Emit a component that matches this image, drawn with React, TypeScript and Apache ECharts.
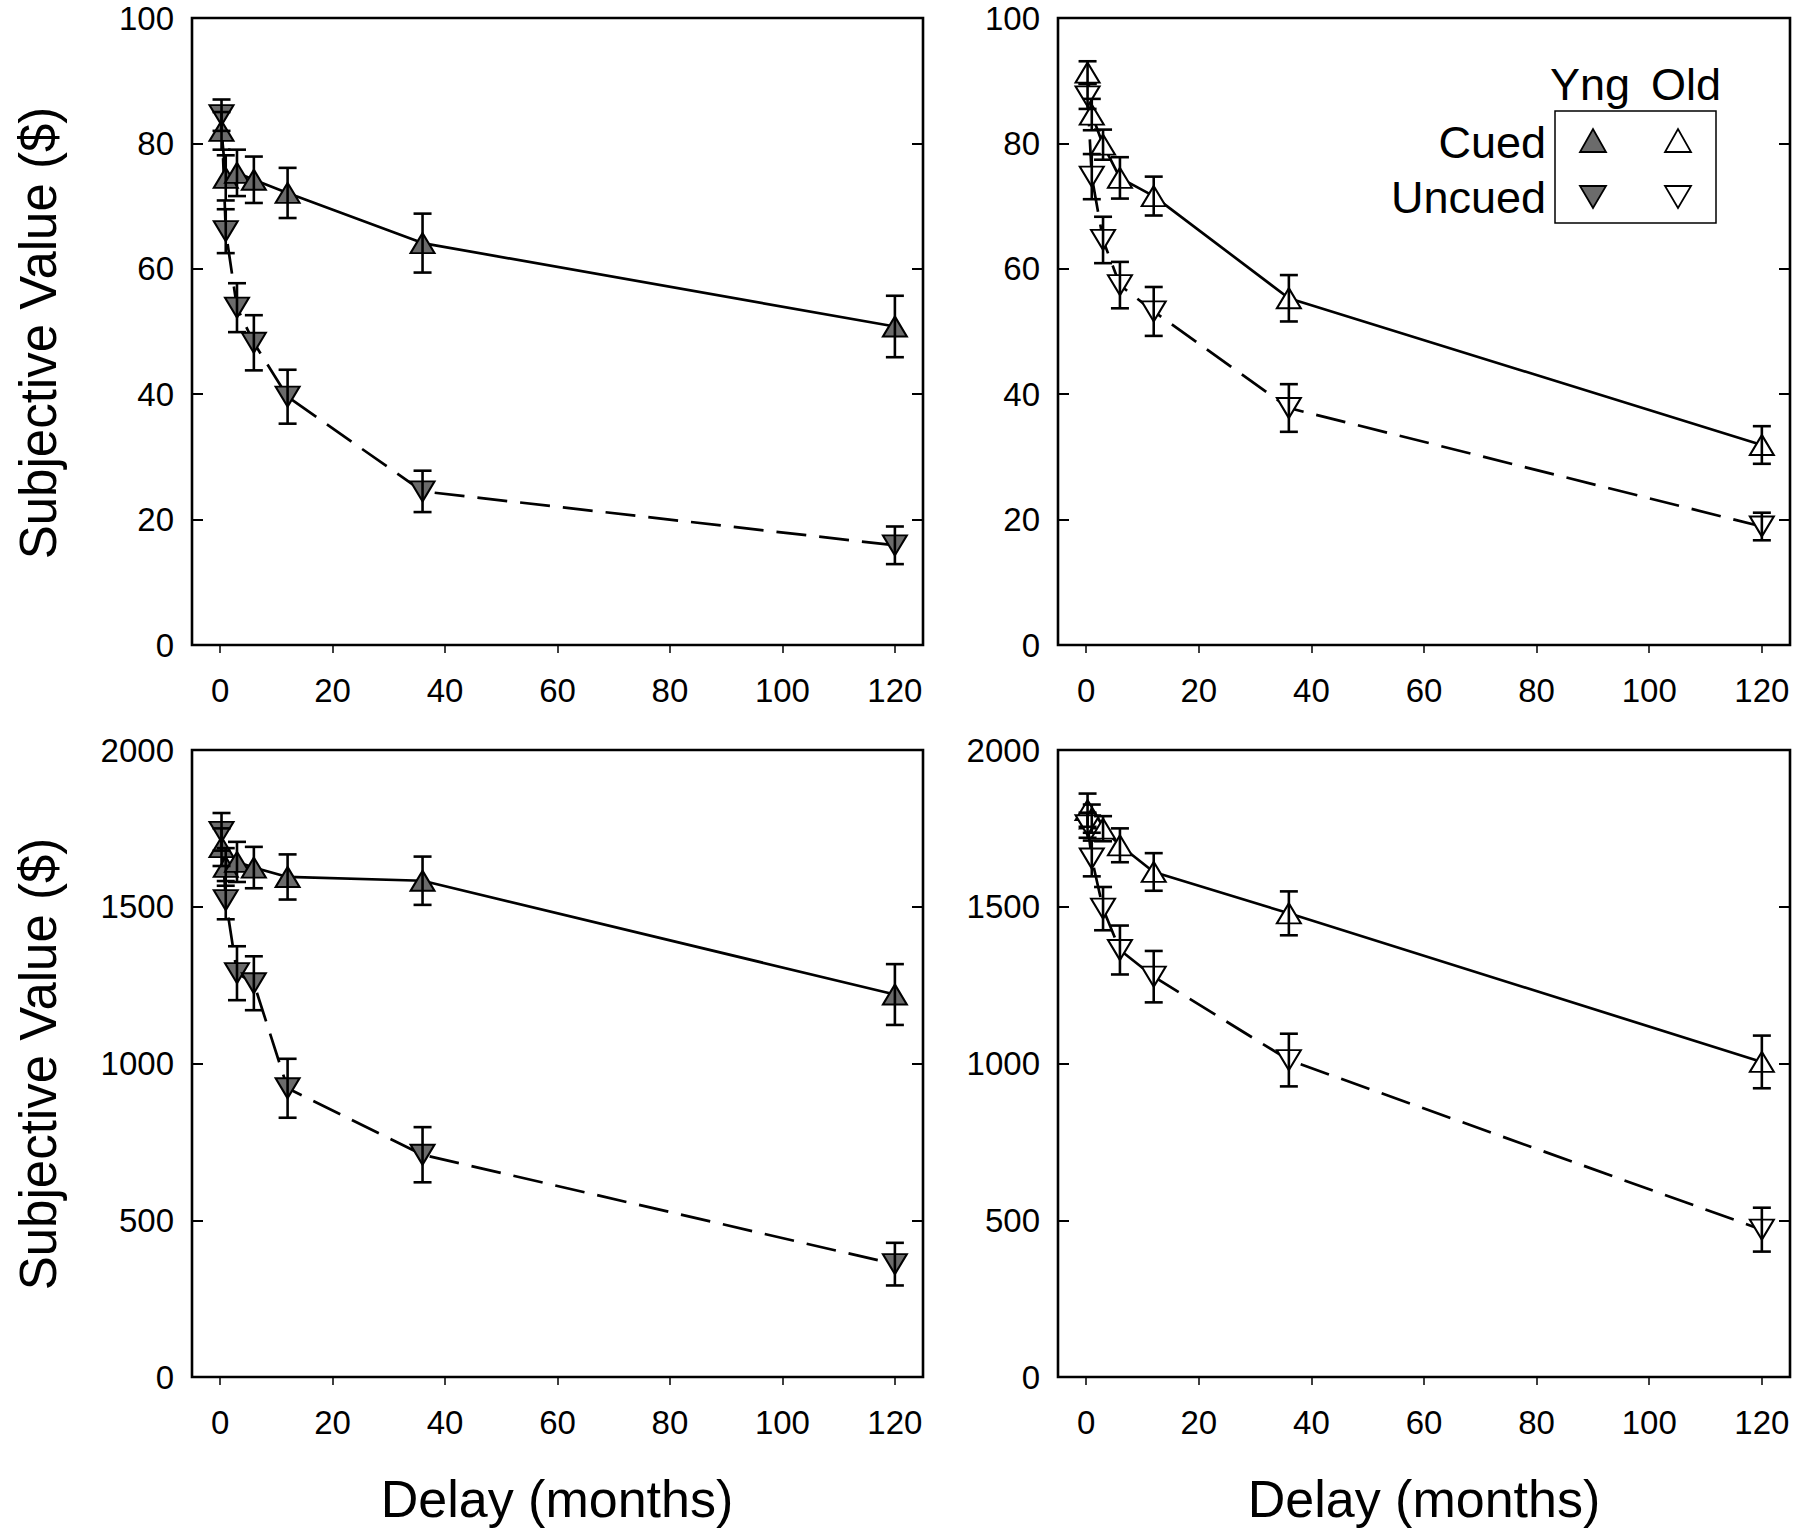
import React, { useEffect, useRef } from "react";
import * as echarts from "echarts";

// ---- data ----
const delays = [0.25, 1, 3, 6, 12, 36, 120];
const xTicks = [0, 20, 40, 60, 80, 100, 120];

// Young, $100
const yng100Cued = [82, 74.5, 75.3, 74.2, 72.1, 64.1, 50.8];
const yng100CuedErr = [3, 3.6, 3.7, 3.7, 4, 4.7, 4.9];
const yng100Uncued = [84.5, 66, 53.8, 48.2, 39.6, 24.5, 15.9];
const yng100UncuedErr = [2.5, 3.5, 3.9, 4.4, 4.3, 3.3, 3];

// Old, $100
const old100Cued = [91.3, 84.6, 79.8, 74.5, 71.6, 55.3, 31.9];
const old100CuedErr = [1.8, 2.5, 2.4, 3.3, 3.1, 3.7, 3];
const old100Uncued = [87.5, 74.7, 64.6, 57.4, 53.2, 37.8, 18.9];
const old100UncuedErr = [2, 3.6, 3.7, 3.7, 3.9, 3.8, 2.2];

// Young, $2000
const yng2000Cued = [1690, 1627, 1643, 1625, 1595, 1583, 1220];
const yng2000CuedErr = [60, 60, 64, 66, 72, 77, 97];
const yng2000Uncued = [1739, 1521, 1288, 1256, 921, 709, 360];
const yng2000UncuedErr = [60, 61, 86, 86, 94, 88, 68];

// Old, $2000
const old2000Cued = [1808, 1781, 1749, 1696, 1611, 1479, 1005];
const old2000CuedErr = [53, 45, 40, 54, 60, 70, 84];
const old2000Uncued = [1760, 1654, 1494, 1362, 1277, 1011, 470];
const old2000UncuedErr = [40, 57, 69, 78, 82, 84, 70];

const yMax = [100, 100, 2000, 2000];
const yInterval = [20, 20, 500, 500];

const FONT = "'Liberation Sans', Arial, Helvetica, sans-serif";
const YNG_FILL = "#6b6b6b";
const OLD_FILL = "#ffffff";

type Panel = {
  cued: number[];
  cuedErr: number[];
  uncued: number[];
  uncuedErr: number[];
  fill: string;
};

const panels: Panel[] = [
  { cued: yng100Cued, cuedErr: yng100CuedErr, uncued: yng100Uncued, uncuedErr: yng100UncuedErr, fill: YNG_FILL },
  { cued: old100Cued, cuedErr: old100CuedErr, uncued: old100Uncued, uncuedErr: old100UncuedErr, fill: OLD_FILL },
  { cued: yng2000Cued, cuedErr: yng2000CuedErr, uncued: yng2000Uncued, uncuedErr: yng2000UncuedErr, fill: YNG_FILL },
  { cued: old2000Cued, cuedErr: old2000CuedErr, uncued: old2000Uncued, uncuedErr: old2000UncuedErr, fill: OLD_FILL },
];

const gridBoxes = [
  { left: 192, top: 18, width: 731, height: 627 },
  { left: 1058, top: 18, width: 732, height: 627 },
  { left: 192, top: 750, width: 731, height: 627 },
  { left: 1058, top: 750, width: 732, height: 627 },
];

function errRender(params: any, api: any) {
  const x = api.value(0);
  const y = api.value(1);
  const e = api.value(2);
  const top = api.coord([x, y + e]);
  const bot = api.coord([x, y - e]);
  const hw = 9;
  const st = { stroke: "#000", lineWidth: 2.6 };
  return {
    type: "group",
    children: [
      { type: "line", shape: { x1: top[0], y1: top[1], x2: bot[0], y2: bot[1] }, style: st },
      { type: "line", shape: { x1: top[0] - hw, y1: top[1], x2: top[0] + hw, y2: top[1] }, style: st },
      { type: "line", shape: { x1: bot[0] - hw, y1: bot[1], x2: bot[0] + hw, y2: bot[1] }, style: st },
    ],
  };
}

function buildOption() {
  const grid = gridBoxes.map((g) => ({
    ...g,
    show: true,
    borderColor: "#000",
    borderWidth: 2.6,
    backgroundColor: "transparent",
    containLabel: false,
  }));

  const xAxis = gridBoxes.map((_, i) => ({
    type: "value",
    gridIndex: i,
    min: -5,
    max: 125,
    axisLine: { show: false, onZero: false },
    axisTick: {
      show: true,
      inside: false,
      length: 8,
      lineStyle: { color: "#000", width: 1.5 },
      customValues: xTicks,
    },
    axisLabel: {
      customValues: xTicks,
      fontSize: 33,
      color: "#000",
      margin: 29,
      fontFamily: FONT,
      formatter: (v: number) => String(v),
    },
    splitLine: { show: false },
  }));

  const yAxis: any[] = [];
  gridBoxes.forEach((_, i) => {
    const base = {
      type: "value",
      gridIndex: i,
      min: 0,
      max: yMax[i],
      interval: yInterval[i],
      axisLine: { show: false, onZero: false },
      axisTick: { show: true, inside: true, length: 11, lineStyle: { color: "#000", width: 2 } },
      splitLine: { show: false },
    };
    yAxis.push({
      ...base,
      position: "left",
      axisLabel: {
        fontSize: 33,
        color: "#000",
        margin: 18,
        fontFamily: FONT,
        formatter: (v: number) => String(v),
      },
    });
    yAxis.push({
      ...base,
      position: "right",
      axisLabel: { show: false },
    });
  });

  const series: any[] = [];
  panels.forEach((p, i) => {
    const groups = [
      { vals: p.cued, errs: p.cuedErr, dash: "solid" as any, rot: 0 },
      { vals: p.uncued, errs: p.uncuedErr, dash: [30, 13] as any, rot: 180 },
    ];
    groups.forEach((g) => {
      series.push({
        type: "line",
        xAxisIndex: i,
        yAxisIndex: 2 * i,
        data: delays.map((d, k) => [d, g.vals[k]]),
        showSymbol: false,
        symbol: "none",
        lineStyle: { color: "#000", width: 2.7, type: g.dash },
        z: 2,
        silent: true,
      });
      series.push({
        type: "scatter",
        xAxisIndex: i,
        yAxisIndex: 2 * i,
        data: delays.map((d, k) => [d, g.vals[k]]),
        symbol: "triangle",
        symbolSize: [24, 20],
        symbolRotate: g.rot,
        itemStyle: { color: p.fill, borderColor: "#000", borderWidth: 2, opacity: 1 },
        z: 3,
        silent: true,
      });
      series.push({
        type: "custom",
        xAxisIndex: i,
        yAxisIndex: 2 * i,
        data: delays.map((d, k) => [d, g.vals[k], g.errs[k]]),
        encode: { x: 0, y: 1 },
        renderItem: errRender,
        z: 4,
        silent: true,
      });
    });
  });

  const titleStyle = { fontSize: 51, fill: "#000", fontFamily: FONT, align: "center", verticalAlign: "middle" };
  const legStyle = { fontSize: 45, fill: "#000", fontFamily: FONT, verticalAlign: "middle" };
  const triStroke = { stroke: "#000", lineWidth: 1.8 };

  const graphic: any[] = [
    { type: "text", x: 38, y: 333, rotation: Math.PI / 2, style: { ...titleStyle, text: "Subjective Value ($)" } },
    { type: "text", x: 38, y: 1064, rotation: Math.PI / 2, style: { ...titleStyle, text: "Subjective Value ($)" } },
    { type: "text", x: 557, y: 1499, style: { ...titleStyle, fontSize: 52, text: "Delay (months)" } },
    { type: "text", x: 1424, y: 1499, style: { ...titleStyle, fontSize: 52, text: "Delay (months)" } },
    // legend
    { type: "text", x: 1590, y: 84, style: { ...legStyle, align: "center", text: "Yng" } },
    { type: "text", x: 1686, y: 84, style: { ...legStyle, align: "center", text: "Old" } },
    { type: "text", x: 1546, y: 142, style: { ...legStyle, align: "right", text: "Cued" } },
    { type: "text", x: 1546, y: 197, style: { ...legStyle, align: "right", text: "Uncued" } },
    {
      type: "rect",
      shape: { x: 1555, y: 111, width: 161, height: 112 },
      style: { fill: "none", stroke: "#000", lineWidth: 1.5 },
    },
    { type: "polygon", shape: { points: [[1580, 152], [1606, 152], [1593, 129]] }, style: { ...triStroke, fill: YNG_FILL } },
    { type: "polygon", shape: { points: [[1665, 152], [1691, 152], [1678, 129]] }, style: { ...triStroke, fill: OLD_FILL } },
    { type: "polygon", shape: { points: [[1580, 186], [1606, 186], [1593, 208]] }, style: { ...triStroke, fill: YNG_FILL } },
    { type: "polygon", shape: { points: [[1665, 186], [1691, 186], [1678, 208]] }, style: { ...triStroke, fill: OLD_FILL } },
  ];

  return {
    animation: false,
    backgroundColor: "#fff",
    textStyle: { fontFamily: FONT },
    grid,
    xAxis,
    yAxis,
    series,
    graphic,
  };
}

export default function App() {
  const ref = useRef<HTMLDivElement>(null);
  useEffect(() => {
    document.body.style.margin = "0";
    if (!ref.current) return;
    const chart = echarts.init(ref.current, undefined, { renderer: "svg" });
    chart.setOption(buildOption() as any);
    return () => chart.dispose();
  }, []);
  return (
    <div
      ref={ref}
      style={{ position: "absolute", left: 0, top: 0, width: 1800, height: 1531, background: "#fff" }}
    />
  );
}
